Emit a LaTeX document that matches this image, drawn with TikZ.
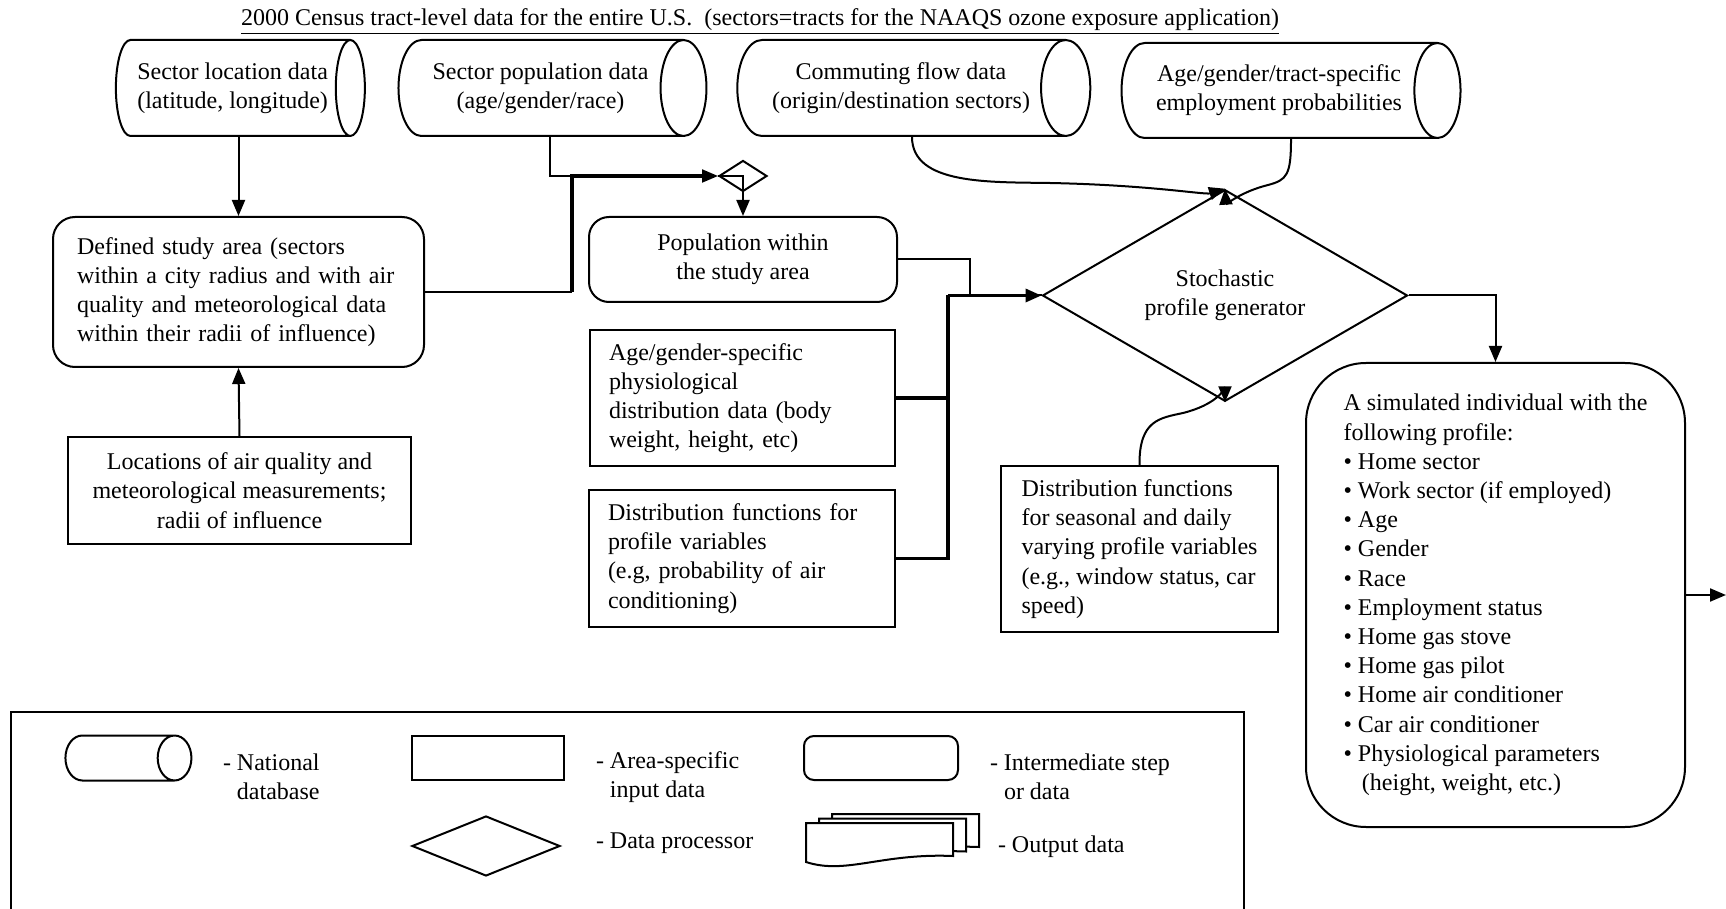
\documentclass[tikz,border=0pt]{standalone}
\usepackage{fontspec}
\setmainfont{Liberation Serif}
\usetikzlibrary{shapes.geometric}
\usetikzlibrary{arrows.meta}

\begin{document}
\begin{tikzpicture}[x=0.5pt,y=0.5pt,
    every node/.style={font=\fontsize{12}{14.6}\selectfont},
    line width=1pt,
    natdb/.style={draw,cylinder,shape aspect=0.9,align=center,inner sep=0pt},
    areabox/.style={draw,rectangle,inner sep=0pt},
    stepbox/.style={draw,rectangle,rounded corners=10pt,inner sep=0pt},
    proc/.style={draw,diamond,inner sep=0pt,align=center},
    flow/.style={-{Triangle[length=8pt,width=6.5pt]}},
    trunk/.style={line width=1.7pt}]
  \useasboundingbox (0,-909) rectangle (1726,0);

  % Heading
  \node (title) at (760,-22) {\underline{2000 Census tract-level data for the entire U.S.\ \ (sectors=tracts for the NAAQS ozone exposure application)}};

  % National databases (cylinder: height = length of axis)
  \node[natdb, shape aspect=0.57, minimum height=124.5pt, minimum width=48pt] (secloc) at (232.6,-88) {Sector location data\\(latitude, longitude)};
  \node[natdb, minimum height=154pt, minimum width=48pt] (secpop) at (540.5,-88) {Sector population data\\(age/gender/race)};
  \node[natdb, shape aspect=0.96, minimum height=176.5pt, minimum width=48pt] (commute) at (901,-88) {Commuting flow data\\(origin/destination sectors)};
  \node[natdb, minimum height=169.5pt, minimum width=47.5pt] (employ) at (1279,-90.5) {Age/gender/tract-specific\\employment probabilities};

  % Study area
  \node[stepbox, text width=161.5pt, inner xsep=12pt, minimum height=75pt, align=left, rounded corners=11pt] (study) at (238.5,-292) {Defined study area (sectors\\within a city radius and with air\\quality and meteorological data\\within their radii of influence)};
  \node[areabox, minimum width=171.5pt, minimum height=53.5pt, align=center] (monitors) at (239.5,-490.5) {Locations of air quality and\\meteorological measurements;\\radii of influence};
  \node[proc, minimum width=24pt, minimum height=15.5pt] (subset) at (743,-176) {};
  \node[stepbox, minimum width=154pt, minimum height=42.5pt, align=center] (popsa) at (743,-259.5) {Population within\\the study area};

  % Area-specific inputs
  \node[areabox, text width=133.5pt, inner xsep=9.5pt, minimum height=68pt, align=left] (physio) at (742.5,-398) {Age/gender-specific\\physiological\\distribution data (body\\weight, height, etc)};
  \node[areabox, text width=134pt, inner xsep=9.5pt, minimum height=68.5pt, align=left] (profvars) at (742,-558.5) {Distribution functions for\\profile variables\\(e.g, probability of air\\conditioning)};
  \node[areabox, minimum width=138.5pt, minimum height=83pt, align=left] (seasonal) at (1139.5,-549) {Distribution functions\\for seasonal and daily\\varying profile variables\\(e.g., window status, car\\speed)};

  % Generator and output
  \node[proc, minimum width=182.5pt, minimum height=67.5pt] (generator) at (1225,-295.5) {Stochastic\\profile generator};
  \node[stepbox, rounded corners=30pt, minimum width=189.5pt, minimum height=232pt, align=left] (person) at (1495.5,-595) {A simulated individual with the\\following profile:\\\textbullet\ Home sector\\\textbullet\ Work sector (if employed)\\\textbullet\ Age\\\textbullet\ Gender\\\textbullet\ Race\\\textbullet\ Employment status\\\textbullet\ Home gas stove\\\textbullet\ Home gas pilot\\\textbullet\ Home air conditioner\\\textbullet\ Car air conditioner\\\textbullet\ Physiological parameters\\\hphantom{\textbullet\ }\,(height, weight, etc.)};

  % Connectors
  \coordinate (j0) at (572,-292);
  \coordinate (j1) at (572,-176);
  \coordinate (j2) at (970,-295.5);
  \coordinate (j3) at (948,-295.5);
  \coordinate (onward) at (1726,-595);
  \draw[flow] (study.north |- secloc.south) -- (study.north);
  \draw[flow] (monitors.north) -- (study.south);
  \draw[flow] ([xshift=4.5pt]secpop.south) |- (subset.west);
  \draw (study.east) -- (j0);
  \draw[trunk, shorten >=6pt] (j0) -- (j1) -- (subset.west);
  \draw[flow] (subset.west) -- (subset.center) -- (popsa.north);
  \draw (popsa.east) -| (j2) -- (generator.west);
  \draw[trunk] (physio.east) -| (j3);
  \draw[trunk] (profvars.east) -| (j3);
  \draw[trunk, flow] (j3) -- (generator.west);
  \draw[flow] ([xshift=5.5pt]commute.south) .. controls (912,-185) and (990,-182) .. (1050,-183) .. controls (1150,-185) and (1205,-195) .. (generator.north);
  \draw[flow] ([xshift=6pt]employ.south) .. controls (1291,-175) and (1287,-180) .. (1268,-185) .. controls (1240,-192) and (1226,-205) .. (generator.north);
  \draw[flow] (seasonal.north) .. controls (1139,-420) and (1160,-418) .. (1183,-413) .. controls (1215,-405) and (1225,-390) .. (generator.south);
  \draw[flow] (generator.east) -| (person.north);
  \draw[flow] (person.east) -- (onward);

  % Legend
  \draw (11,-915) |- (1244,-712) -- (1244,-915);
  \node[natdb, shape aspect=0.75, minimum height=63pt, minimum width=22.5pt] (keydb) at (119.5,-758) {\rule{0pt}{22.5pt}};
  \node[anchor=west, inner sep=0pt, align=left] (keydbtxt) at (222,-777) {- National\\\hphantom{- }database};
  \node[areabox, minimum width=76pt, minimum height=22pt] (keyarea) at (488,-758) {};
  \node[anchor=west, inner sep=0pt, align=left] (keyareatxt) at (595,-777) {- Area-specific\\\hphantom{- }input data};
  \node[stepbox, rounded corners=5pt, minimum width=77pt, minimum height=22pt] (keystep) at (881,-758) {};
  \node[anchor=west, inner sep=0pt, align=left] (keysteptxt) at (989,-777) {- Intermediate step\\\hphantom{- }or data};
  \node[proc, minimum width=74pt, minimum height=30pt] (keyproc) at (486,-846) {};
  \node[anchor=west, inner sep=0pt] (keyproctxt) at (595,-843) {- Data processor};
  \foreach \d in {2,1,0}{
    \pgfmathsetmacro{\px}{806+13*\d}
    \pgfmathsetmacro{\py}{-823+4.5*\d}
    \draw[fill=white] (\px,\py) -- ({\px+147},\py) -- ({\px+147},{\py-33})
      .. controls ({\px+75},{\py-30}) and ({\px+40},{\py-52}) .. (\px,{\py-39}) -- cycle;
  }
  \node[anchor=west, inner sep=0pt] (keyouttxt) at (997,-847) {- Output data};
\end{tikzpicture}
\end{document}
